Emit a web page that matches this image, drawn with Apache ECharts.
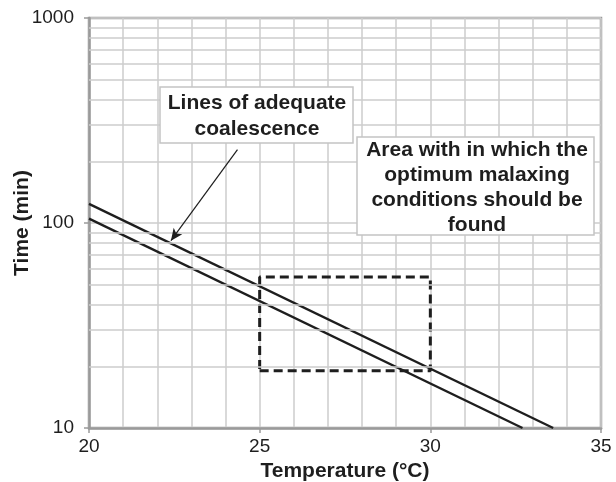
<!DOCTYPE html>
<html>
<head>
<meta charset="utf-8">
<script src="https://cdn.jsdelivr.net/npm/echarts@6/dist/echarts.min.js"></script>
<style>html,body{margin:0;padding:0;background:#fff}#c{width:616px;height:482px}</style>
</head>
<body>
<div id="c"></div>
<script>
// ---- data ----
var xTicks = [20, 25, 30, 35];
var yTicks = [10, 100, 1000];
var yMinor = [20, 30, 40, 50, 60, 70, 80, 90, 200, 300, 400, 500, 600, 700, 800, 900];
var upperLine = [[20, 124], [33.6, 10]];
var lowerLine = [[20, 105], [32.7, 10]];
var areaX = [25, 30];
var areaY = [19, 54.5];
var arrowFrom = [24.35, 228];
var arrowTo = [22.4, 82];
var label1 = ['Lines of adequate', 'coalescence'];
var label2 = ['Area with in which the', 'optimum malaxing', 'conditions should be', 'found'];

var rectPts = [[areaX[0], areaY[0]], [areaX[1], areaY[0]], [areaX[1], areaY[1]], [areaX[0], areaY[1]], [areaX[0], areaY[0]]];

var FONT = '"Liberation Sans", Arial, Helvetica, sans-serif';
var GRID = '#cdcdcd';
var AXIS = '#9a9a9a';
var INK = '#1e1e1e';

var chart = echarts.init(document.getElementById('c'), null, {renderer: 'canvas'});
chart.setOption({
  animation: false,
  backgroundColor: '#fff',
  grid: {left: 89, right: 15, top: 18, bottom: 54, show: true, borderColor: AXIS, borderWidth: 2.5, containLabel: false, outerBoundsMode: 'none'},
  xAxis: {
    type: 'value', min: 20, max: 35, interval: 5,
    name: 'Temperature (°C)', nameLocation: 'middle', nameGap: 33, nameMoveOverlap: false,
    nameTextStyle: {fontFamily: FONT, fontWeight: 'bold', fontSize: 21, color: INK},
    axisLine: {show: true, lineStyle: {color: AXIS, width: 2.5}},
    axisTick: {show: true, length: 5, lineStyle: {color: AXIS, width: 1.5}},
    axisLabel: {fontFamily: FONT, fontSize: 19, color: INK, margin: 9,
      formatter: function (v) { return xTicks.indexOf(v) >= 0 ? String(v) : ''; }},
    splitLine: {show: true, lineStyle: {color: GRID, width: 1.5}},
    minorTick: {show: false, splitNumber: 5},
    minorSplitLine: {show: true, lineStyle: {color: GRID, width: 1.5}}
  },
  yAxis: {
    type: 'log', logBase: 10, min: 10, max: 1000,
    name: 'Time (min)', nameLocation: 'middle', nameGap: 56, nameRotate: 90, nameMoveOverlap: false,
    nameTextStyle: {fontFamily: FONT, fontWeight: 'bold', fontSize: 21, color: INK},
    axisLine: {show: true, lineStyle: {color: AXIS, width: 2.5}},
    axisTick: {show: true, length: 5, lineStyle: {color: AXIS, width: 1.5}},
    axisLabel: {fontFamily: FONT, fontSize: 19, color: INK, margin: 15,
      formatter: function (v) { return yTicks.indexOf(Math.round(v)) >= 0 ? String(Math.round(v)) : ''; }},
    splitLine: {show: true, lineStyle: {color: GRID, width: 1.5}}
  },
  series: [
    {
      type: 'line', data: [], silent: true,
      markLine: {
        silent: true, symbol: ['none', 'none'], label: {show: false},
        lineStyle: {color: GRID, width: 1.5, type: 'solid'},
        data: yMinor.map(function (v) { return {yAxis: v}; })
      }
    },
    {
      type: 'line', data: rectPts, symbol: 'none', silent: true,
      lineStyle: {color: INK, width: 3, type: [9, 5]}
    },
    {
      type: 'line', data: upperLine, symbol: 'none', silent: true,
      lineStyle: {color: INK, width: 2.3}
    },
    {
      type: 'line', data: lowerLine, symbol: 'none', silent: true,
      lineStyle: {color: INK, width: 2.3},
      markLine: {
        silent: true, symbol: ['none', 'arrow'], symbolSize: [8, 12], label: {show: false},
        lineStyle: {color: INK, width: 1.2, type: 'solid'},
        data: [[{coord: arrowFrom}, {coord: arrowTo}]]
      }
    }
  ],
  graphic: [
    {type: 'rect', shape: {x: 160, y: 87, width: 193, height: 56}, style: {fill: '#fff', stroke: '#c4c4c4', lineWidth: 1.5}, z: 100},
    {type: 'text', x: 257, y: 116, z: 101, style: {text: label1.join('\n'), fontFamily: FONT, fontWeight: 'bold', fontSize: 21, lineHeight: 26, fill: INK, align: 'center', verticalAlign: 'middle'}},
    {type: 'rect', shape: {x: 357, y: 137, width: 237, height: 98}, style: {fill: '#fff', stroke: '#c4c4c4', lineWidth: 1.5}, z: 100},
    {type: 'text', x: 477, y: 188, z: 101, style: {text: label2.join('\n'), fontFamily: FONT, fontWeight: 'bold', fontSize: 21, lineHeight: 25, fill: INK, align: 'center', verticalAlign: 'middle'}}
  ]
});
</script>
</body>
</html>
